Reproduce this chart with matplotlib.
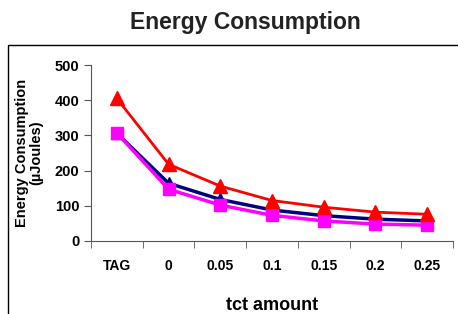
import matplotlib
matplotlib.use("Agg")
import matplotlib.pyplot as plt
from matplotlib.patches import Rectangle

# values
categories = ["TAG", "0", "0.05", "0.1", "0.15", "0.2", "0.25"]
series_red = [405, 218, 156, 115, 96, 82, 76]
series_navy = [306, 164, 118, 88, 72, 62, 57]
series_magenta = [307, 147, 102, 73, 57, 48, 45]
y_ticks = [0, 100, 200, 300, 400, 500]

plt.rcParams['font.family'] = ['Liberation Sans', 'DejaVu Sans']
plt.rcParams['font.weight'] = 'bold'

fig = plt.figure(figsize=(4.58, 3.14), dpi=100)

# outer frame (open on right and bottom)
fig.patches.append(Rectangle((8 / 458, -0.1), 1.2, (314 - 45) / 314 + 0.1,
                             transform=fig.transFigure, fill=False,
                             edgecolor='black', linewidth=1.0))

ax = fig.add_axes([91 / 458, (314 - 241) / 314, (453 - 91) / 458, (241 - 65) / 314])
x = range(len(categories))

ax.plot(x, series_navy, color='#000080', linewidth=2.5, marker='^', markersize=8,
        zorder=3)
ax.plot(x, series_magenta, color='#ff00ff', linewidth=2.5, marker='s', markersize=8.5,
        zorder=4)
ax.plot(x, series_red, color='#ff0000', linewidth=2.0, marker='^', markersize=10,
        zorder=5)

ax.set_xlim(-0.5, len(categories) - 0.5)
ax.set_ylim(0, 500)
ax.set_yticks(y_ticks)
ax.set_xticks([i for i in x])
ax.set_xticklabels(categories, fontsize=10, fontweight='bold')
ax.set_xticks([i - 0.5 for i in range(len(categories) + 1)], minor=True)
ax.tick_params(axis='x', which='major', length=0, pad=13)
ax.tick_params(axis='x', which='minor', length=5, direction='out', color='#555555')
ax.tick_params(axis='y', length=5, direction='out', color='#555555', labelsize=10.5)
for lab in ax.get_yticklabels():
    lab.set_fontweight('bold')

for s in ['top', 'right']:
    ax.spines[s].set_visible(False)
for s in ['left', 'bottom']:
    ax.spines[s].set_color('#555555')

ax.set_ylabel("Energy Consumption\n(\u00b5Joules)", fontsize=10.5, fontweight='bold',
              labelpad=8, linespacing=1.0)
ax.set_xlabel("tct amount", fontsize=13, fontweight='bold', labelpad=17)
fig.text(245 / 458, 1 - 23 / 314, "Energy Consumption", ha='center', va='center',
         fontsize=16.5, fontweight='bold', color='#222222')

fig.savefig("out.png", dpi=100)
